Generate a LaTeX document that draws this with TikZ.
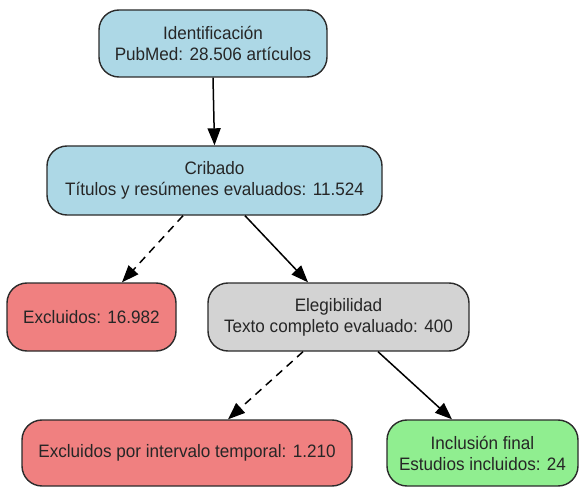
\documentclass[tikz,border=0pt]{standalone}
\usepackage{fontspec}
\setmainfont{Liberation Sans}[FakeStretch=0.95]
\usetikzlibrary{arrows.meta,calc}
\definecolor{lblue}{HTML}{ADD8E6}
\definecolor{lcoral}{HTML}{F08080}
\definecolor{lgray}{HTML}{D3D3D3}
\definecolor{lgreen}{HTML}{90EE90}
\definecolor{edgec}{HTML}{2B2B2B}
\tikzset{
  box/.style={draw=edgec, line width=1.4pt, rounded corners=20pt, align=center,
    inner sep=0pt, font=\fontsize{18}{21}\selectfont, text=black!85},
  arr/.style={-{Triangle[length=17pt,width=13pt]}, line width=1.5pt, draw=black},
  dsh/.style={arr, dash pattern=on 8pt off 6pt},
}
\begin{document}
\begin{tikzpicture}[x=1pt,y=-1pt]
\useasboundingbox (0,0) rectangle (582,487);
\node[box, fill=lblue, minimum width=228pt, minimum height=67pt] (ident) at (213,43.5)
  {Identificación\\PubMed: 28.506 artículos};
\node[box, fill=lblue, minimum width=335pt, minimum height=69pt] (crib) at (214.5,180.5)
  {Cribado\\Títulos y resúmenes evaluados: 11.524};
\node[box, fill=lcoral, minimum width=169pt, minimum height=68pt] (exc1) at (91.5,317)
  {Excluidos: 16.982};
\node[box, fill=lgray, minimum width=261pt, minimum height=68pt] (eleg) at (338.5,317)
  {Elegibilidad\\Texto completo evaluado: 400};
\node[box, fill=lcoral, minimum width=330pt, minimum height=66pt] (exc2) at (187,453)
  {Excluidos por intervalo temporal: 1.210};
\node[box, fill=lgreen, minimum width=191pt, minimum height=66pt] (incl) at (482.5,453)
  {Inclusión final\\Estudios incluidos: 24};
\draw[arr] (ident.south) -- (crib.north);
\draw[dsh] ([xshift=-31.5pt]crib.south) -- ([xshift=30.5pt]exc1.north);
\draw[arr] ([xshift=30.5pt]crib.south) -- ([xshift=-30.5pt]eleg.north);
\draw[dsh] ([xshift=-35.5pt]eleg.south) -- ([xshift=41pt]exc2.north);
\draw[arr] ([xshift=39.5pt]eleg.south) -- ([xshift=-30.5pt]incl.north);
\end{tikzpicture}
\end{document}
